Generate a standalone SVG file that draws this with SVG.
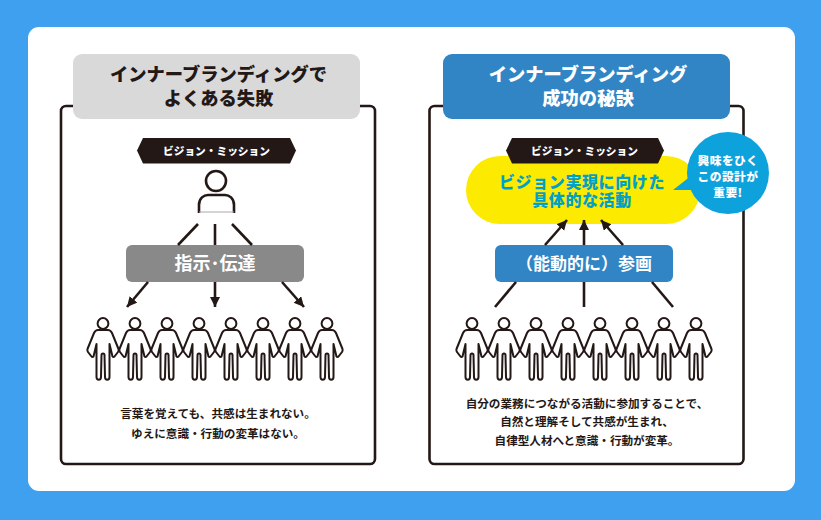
<svg xmlns="http://www.w3.org/2000/svg" width="821" height="520" viewBox="0 0 821 520">
<style>
text{font-family:"Noto Sans CJK JP","Noto Sans",sans-serif;text-anchor:middle}
.t{font-size:18.3px;font-weight:900}
.m{font-size:10.7px;font-weight:900;fill:#fff}
.b{font-size:11.6px;font-weight:700;fill:#231815}
.c{font-size:11.7px;font-weight:900;fill:#fff}
.frame{fill:#fff;stroke:#231815;stroke-width:2.6}
.l{fill:none;stroke:#231815;stroke-width:2.6}
.p{fill:none;stroke:#231815;stroke-width:2;stroke-linejoin:round}
</style>
<defs>
<marker id="a" markerUnits="userSpaceOnUse" markerWidth="11" markerHeight="11" refX="10" refY="5" orient="auto"><path d="M0 0L10 5L0 10z" fill="#231815"/></marker>
<g id="person"><circle cx="0" cy="-30.500" r="5.400"/><path d="M-5-24H5C7-24 8-23 9-21L15.500-5C16-3.500 15.500-3 15-2L11.500 2.500C11 3.200 10 3.200 9.500 2.500L6.500-10V23C6.500 26.500 2 26.500 2 23L1.500 1C1.500-1-1.500-1-1.500 1L-2 23C-2 26.500-6.500 26.500-6.500 23V-10L-9.500 2.500C-10 3.200-11 3.200-11.500 2.500L-15-2C-15.500-3-16-3.500-15.500-5L-9-21C-8-23-7-24-5-24Z"/></g>
</defs>
<rect width="821" height="520" fill="#3fa0f0"/>
<rect x="28" y="27" width="767" height="464" rx="11" fill="#fff"/>
<g id="left-panel"><rect class="frame" x="61" y="106" width="314" height="358" rx="5"/><rect x="73" y="54" width="287" height="65" rx="9" fill="#d9d9d9"/><text class="t" x="218.500" y="81" fill="#231815">インナーブランディングで</text><text class="t" x="218.500" y="105" fill="#231815">よくある失敗</text></g>
<g id="right-panel"><rect class="frame" x="429.500" y="106" width="314" height="358" rx="5"/><rect x="443" y="54" width="287" height="65" rx="9" fill="#3185c5"/><text class="t" x="588" y="81" fill="#fff">インナーブランディング</text><text class="t" x="588" y="105" fill="#fff">成功の秘訣</text></g>
<g id="left-mission"><path d="M143 138H290L296 150.500 290 163.500H143L137 150.500Z" fill="#231815"/><text class="m" x="216.500" y="154.500">ビジョン・ミッション</text></g>
<g id="leader" class="p" style="stroke-width:2.6"><circle cx="216" cy="181" r="10"/><path d="M199 213V205C199 198 204 195 208 195H225C229 195 234 198 234 205V213"/><path d="M199 212H234" style="stroke-width:1;stroke:#aaa"/></g>
<g id="instruct"><rect x="126" y="245" width="178" height="37" rx="6" fill="#898989"/><text x="215" y="270" font-size="18" font-weight="700" fill="#fff">指示･伝達</text></g>
<g id="left-people" class="p"><use href="#person" x="103" y="354"/><use href="#person" x="135" y="354"/><use href="#person" x="167" y="354"/><use href="#person" x="199" y="354"/><use href="#person" x="231" y="354"/><use href="#person" x="263" y="354"/><use href="#person" x="295" y="354"/><use href="#person" x="327" y="354"/></g>
<g id="left-caption"><text class="b" x="218" y="418">言葉を覚えても、共感は生まれない。</text><text class="b" x="218" y="437.500">ゆえに意識・行動の変革はない。</text></g>
<g id="activity"><rect x="466" y="156" width="234" height="68" rx="34" fill="#fcea00"/><text font-size="16" font-weight="900" fill="#00a0c8" letter-spacing="0.6"><tspan x="582" y="188">ビジョン実現に向けた</tspan><tspan x="582" y="206">具体的な活動</tspan></text></g>
<g id="right-mission"><path d="M512 138H658L664 150.500 658 163.500H512L506 150.500Z" fill="#231815"/><text class="m" x="584.500" y="154.500">ビジョン・ミッション</text></g>
<g id="callout"><circle cx="728" cy="173" r="41" fill="#0ea2dd"/><path d="M673 190L696 172 696 190Z" fill="#0ea2dd"/><text class="c" letter-spacing="0.5"><tspan x="728" y="165">興味をひく</tspan><tspan x="728" y="181">この設計が</tspan><tspan x="728" y="197">重要!</tspan></text></g>
<g id="join"><rect x="495" y="245" width="178" height="37" rx="6" fill="#3185c5"/><text x="584" y="270" font-size="17" font-weight="700" fill="#fff">（能動的に）参画</text></g>
<g id="right-people" class="p"><use href="#person" x="472" y="354"/><use href="#person" x="504" y="354"/><use href="#person" x="536" y="354"/><use href="#person" x="568" y="354"/><use href="#person" x="600" y="354"/><use href="#person" x="632" y="354"/><use href="#person" x="664" y="354"/><use href="#person" x="696" y="354"/></g>
<g id="right-caption"><text class="b" x="587" y="407.500">自分の業務につながる活動に参加することで、</text><text class="b" x="587" y="426">自然と理解そして共感が生まれ、</text><text class="b" x="587" y="445">自律型人材へと意識・行動が変革。</text></g>
<g id="connectors">
<path class="l" d="M198 224L178 245"/><path class="l" d="M215 224V245"/><path class="l" d="M232 224L252 245"/>
<path class="l" d="M148 282L127 307" marker-end="url(#a)"/><path class="l" d="M215 282V307" marker-end="url(#a)"/><path class="l" d="M282 282L304 307" marker-end="url(#a)"/>
<path class="l" d="M545 245L567 220" marker-end="url(#a)"/><path class="l" d="M584 245V220" marker-end="url(#a)"/><path class="l" d="M623 245L601 220" marker-end="url(#a)"/>
<path class="l" d="M516 282L495 307"/><path class="l" d="M584 282V307"/><path class="l" d="M652 282L673 307"/>
</g>
</svg>
